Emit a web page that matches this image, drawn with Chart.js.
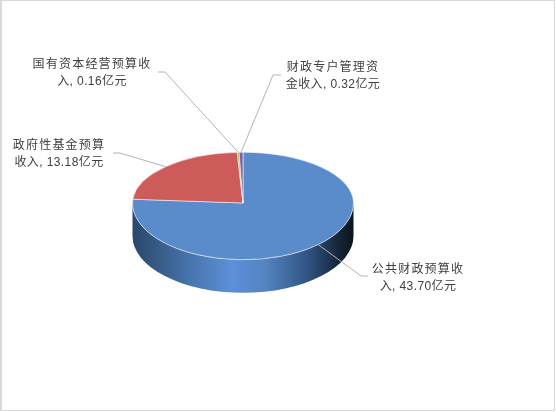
<!DOCTYPE html>
<html>
<head>
<meta charset="utf-8">
<style>
    html, body { margin: 0; padding: 0; background: #fff; overflow: hidden; }
    #frame { position: absolute; left: 0; top: 0; width: 552px; height: 409px; border: 1px solid #d9d9d9; border-left-width: 2px; pointer-events: none; }
    canvas { display: block; }
</style>
</head>
<body>
<canvas id="pie" width="556" height="412"></canvas>
<div id="frame"></div>
<script src="https://cdn.jsdelivr.net/npm/chart.js@4"></script>
<script>
const categories = ['公共财政预算收入', '政府性基金预算收入', '国有资本经营预算收入', '财政专户管理资金收入'];
const values = [43.70, 13.18, 0.16, 0.32];
const unit = '亿元';
const colors = ['#5a8bcb', '#cd5b59', '#9bbb59', '#8064a2'];
// how many characters of the name stay on the first line of the label
const wrapAt = [7, 7, 9, 7];
const labelCenters = [[418, 270], [59, 146], [92, 65], [333, 68]];
const lineBends = [
    [[361, 276], [368, 276]],
    [[120, 153], [113, 153]],
    [[165, 72], [158, 72]],
    [[273, 75], [281, 75]]
];

const topSquash = 51 / 111;
const bottomSquash = 57 / 111;
const depth = 33;

function edgePoint(arc) {
    const mid = (arc.startAngle + arc.endAngle) / 2;
    const dx = Math.cos(mid) * arc.outerRadius;
    const dy = Math.sin(mid) * arc.outerRadius;
    return [arc.x + dx, arc.y + dy * (dy < 0 ? topSquash : bottomSquash)];
}

const pie3d = {
    id: 'pie3d',
    beforeDatasetsDraw(chart) {
        const ctx = chart.ctx;
        const meta = chart.getDatasetMeta(0);
        const cx = meta.data[0].x;
        const cy = meta.data[0].y;
        const r = meta.data[0].outerRadius;

        // side wall, only the big slice faces the front
        const wall = ctx.createLinearGradient(cx - r, 0, cx + r, 0);
        wall.addColorStop(0, '#2b4669');
        wall.addColorStop(0.25, '#4673aa');
        wall.addColorStop(0.45, '#5b90d8');
        wall.addColorStop(0.6, '#5484c2');
        wall.addColorStop(0.8, '#2f5280');
        wall.addColorStop(0.95, '#12202f');
        wall.addColorStop(1, '#0c1520');
        ctx.save();
        ctx.beginPath();
        ctx.ellipse(cx, cy, r, r * bottomSquash, 0, 0, Math.PI);
        ctx.lineTo(cx - r, cy + depth);
        ctx.ellipse(cx, cy + depth, r, r * bottomSquash, 0, Math.PI, 0, true);
        ctx.closePath();
        ctx.fillStyle = wall;
        ctx.fill();
        ctx.restore();

        // top face, the library arcs squashed onto an ellipse
        [[0, cy, topSquash], [cy, chart.height, bottomSquash]].forEach(([from, to, squash]) => {
            ctx.save();
            ctx.beginPath();
            ctx.rect(0, from, chart.width, to - from);
            ctx.clip();
            ctx.translate(0, cy);
            ctx.scale(1, squash);
            ctx.translate(0, -cy);
            meta.controller.draw();
            ctx.restore();
        });
        return false;
    },
    afterDraw(chart) {
        const ctx = chart.ctx;
        const meta = chart.getDatasetMeta(0);
        ctx.save();
        categories.forEach((name, i) => {
            const start = edgePoint(meta.data[i]);
            ctx.beginPath();
            ctx.moveTo(start[0], start[1]);
            lineBends[i].forEach(p => ctx.lineTo(p[0], p[1]));
            ctx.strokeStyle = '#b3b3b3';
            ctx.lineWidth = 1;
            ctx.stroke();

            const first = name.slice(0, wrapAt[i]);
            const second = name.slice(wrapAt[i]) + ', ' + values[i].toFixed(2) + unit;
            ctx.font = '12px "Liberation Sans", "Noto Sans CJK SC", sans-serif';
            ctx.fillStyle = '#404040';
            ctx.textAlign = 'center';
            ctx.textBaseline = 'middle';
            ctx.letterSpacing = '1.2px';
            ctx.fillText(first, labelCenters[i][0], labelCenters[i][1]);
            ctx.letterSpacing = '0.4px';
            ctx.fillText(second, labelCenters[i][0], labelCenters[i][1] + 17);
        });
        ctx.restore();
    }
};

new Chart(document.getElementById('pie').getContext('2d'), {
    type: 'pie',
    data: {
        labels: categories,
        datasets: [{
            data: values,
            backgroundColor: colors,
            borderColor: 'rgba(255,255,255,0.75)',
            borderWidth: 1
        }]
    },
    options: {
        responsive: false,
        animation: false,
        layout: { padding: { left: 132, right: 202, top: 92, bottom: 98 } },
        plugins: { legend: { display: false }, tooltip: { enabled: false } }
    },
    plugins: [pie3d]
});
</script>
</body>
</html>
